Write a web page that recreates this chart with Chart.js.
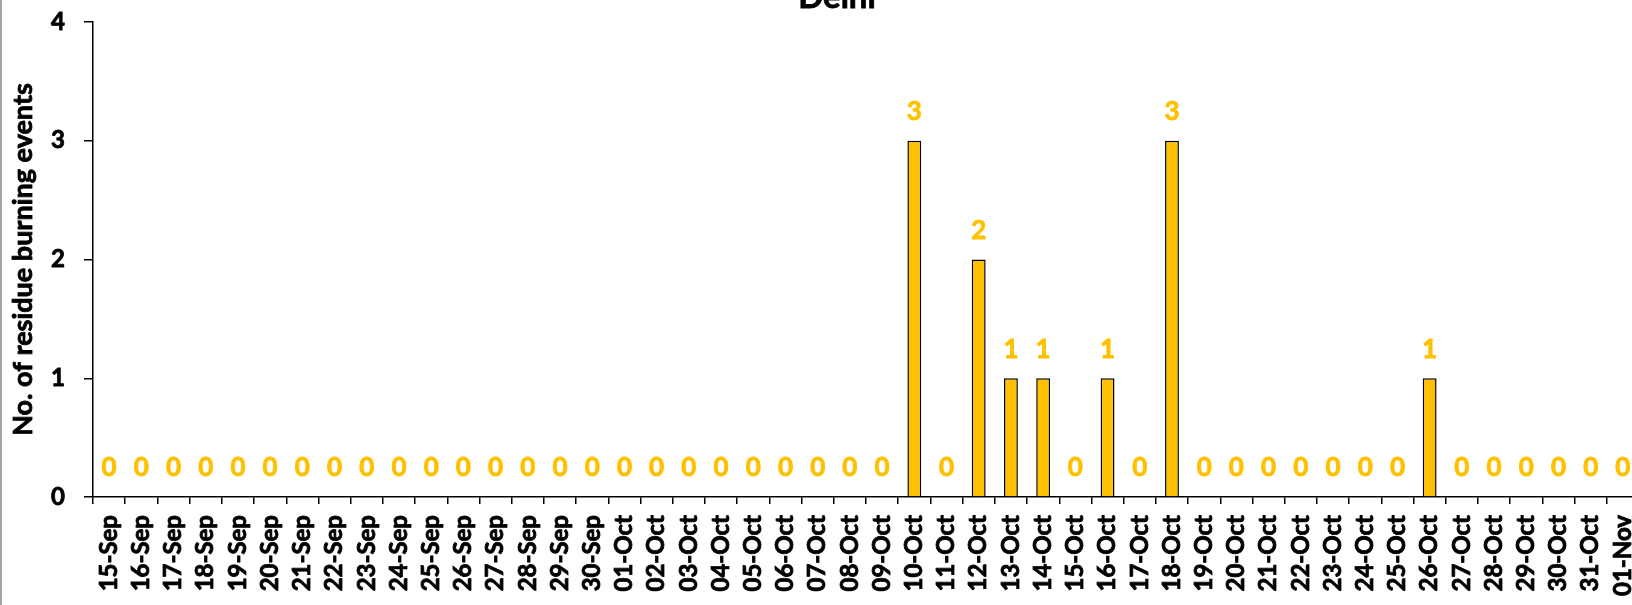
<!DOCTYPE html>
<html>
<head>
<meta charset="utf-8">
<script src="https://cdn.jsdelivr.net/npm/chart.js@4.4.0/dist/chart.umd.min.js"></script>
<style>
  html, body { margin: 0; padding: 0; background: #fff; overflow: hidden; width: 1632px; height: 605px; }
  #wrap { position: relative; width: 1674px; height: 605px; }
  #edge { position: absolute; left: 0; top: 0; width: 2px; height: 605px; background: #a6a6a6; }
  canvas { display: block; }
</style>
</head>
<body>
<div id="wrap">
  <canvas id="c" width="1674" height="605"></canvas>
  <div id="edge"></div>
</div>
<script>
const chartTitle = "Delhi";
const yAxisTitle = "No. of residue burning events";
const categories = [
  "15-Sep","16-Sep","17-Sep","18-Sep","19-Sep","20-Sep","21-Sep","22-Sep","23-Sep","24-Sep",
  "25-Sep","26-Sep","27-Sep","28-Sep","29-Sep","30-Sep",
  "01-Oct","02-Oct","03-Oct","04-Oct","05-Oct","06-Oct","07-Oct","08-Oct","09-Oct","10-Oct",
  "11-Oct","12-Oct","13-Oct","14-Oct","15-Oct","16-Oct","17-Oct","18-Oct","19-Oct","20-Oct",
  "21-Oct","22-Oct","23-Oct","24-Oct","25-Oct","26-Oct","27-Oct","28-Oct","29-Oct","30-Oct",
  "31-Oct","01-Nov"
];
const events = [
  0,0,0,0,0,0,0,0,0,0,
  0,0,0,0,0,0,
  0,0,0,0,0,0,0,0,0,3,
  0,2,1,1,0,1,0,3,0,0,
  0,0,0,0,0,1,0,0,0,0,
  0,0
];
const yTicks = [0, 1, 2, 3, 4];

const FONT = "Lato, 'Open Sans', sans-serif";
const BAR_COLOR = "#FFC000";

const valueLabels = {
  id: "valueLabels",
  afterDatasetsDraw(chart) {
    const ctx = chart.ctx;
    const meta = chart.getDatasetMeta(0);
    ctx.save();
    ctx.font = "bold 26px " + FONT;
    ctx.fillStyle = BAR_COLOR;
    ctx.strokeStyle = BAR_COLOR;
    ctx.lineWidth = 0.8;
    ctx.textAlign = "center";
    ctx.textBaseline = "middle";
    meta.data.forEach((bar, i) => {
      const t = String(chart.data.datasets[0].data[i]);
      ctx.strokeText(t, bar.x, bar.y - 29);
      ctx.fillText(t, bar.x, bar.y - 29);
    });
    ctx.restore();
  }
};

const titlesDraw = {
  id: "titlesDraw",
  afterDraw(chart) {
    const ctx = chart.ctx;
    const area = chart.chartArea;
    ctx.save();
    ctx.fillStyle = "#000";
    ctx.strokeStyle = "#000";
    ctx.lineWidth = 0.8;
    // chart title
    ctx.font = "bold 33px " + FONT;
    ctx.textAlign = "center";
    ctx.textBaseline = "alphabetic";
    ctx.strokeText(chartTitle, chart.width / 2, 8);
    ctx.fillText(chartTitle, chart.width / 2, 8);
    // y-axis title
    ctx.font = "bold 27px " + FONT;
    ctx.textBaseline = "middle";
    ctx.translate(23, (area.top + area.bottom) / 2);
    ctx.rotate(-Math.PI / 2);
    ctx.strokeText(yAxisTitle, 0, 0);
    ctx.fillText(yAxisTitle, 0, 0);
    ctx.restore();
  }
};

new Chart(document.getElementById("c"), {
  type: "bar",
  data: {
    labels: categories,
    datasets: [{
      data: events,
      backgroundColor: BAR_COLOR,
      borderColor: "#000",
      borderWidth: 1.5,
      barPercentage: 0.43,
      categoryPercentage: 1.0
    }]
  },
  options: {
    responsive: false,
    devicePixelRatio: 1,
    animation: false,
    layout: { padding: { top: 22, right: 35, bottom: 0, left: 0 } },
    plugins: {
      legend: { display: false },
      tooltip: { enabled: false },
      title: { display: false }
    },
    scales: {
      x: {
        offset: true,
        grid: {
          offset: true,
          drawOnChartArea: false,
          drawTicks: true,
          tickLength: 7,
          color: "#000",
          lineWidth: 1.5
        },
        border: { display: true, color: "#000", width: 1.5 },
        ticks: {
          autoSkip: false,
          maxRotation: 90,
          minRotation: 90,
          padding: 11,
          color: "#000",
          textStrokeColor: "#000",
          textStrokeWidth: 0.8,
          font: { family: FONT, size: 24, weight: "bold" }
        },
        afterFit(scale) { scale.height = 108; scale.paddingLeft = 0; scale.paddingRight = 0; }
      },
      y: {
        min: 0,
        max: 4,
        afterBuildTicks(scale) { scale.ticks = yTicks.map(v => ({ value: v })); },
        grid: {
          drawOnChartArea: false,
          drawTicks: true,
          tickLength: 9,
          color: "#000",
          lineWidth: 1.5
        },
        border: { display: true, color: "#000", width: 1.5 },
        ticks: {
          padding: 19,
          color: "#000",
          textStrokeColor: "#000",
          textStrokeWidth: 0.8,
          font: { family: FONT, size: 24, weight: "bold" }
        },
        title: { display: false },
        afterFit(scale) { scale.width = 93; scale.paddingTop = 0; scale.paddingBottom = 0; }
      }
    }
  },
  plugins: [valueLabels, titlesDraw]
});
</script>
</body>
</html>
